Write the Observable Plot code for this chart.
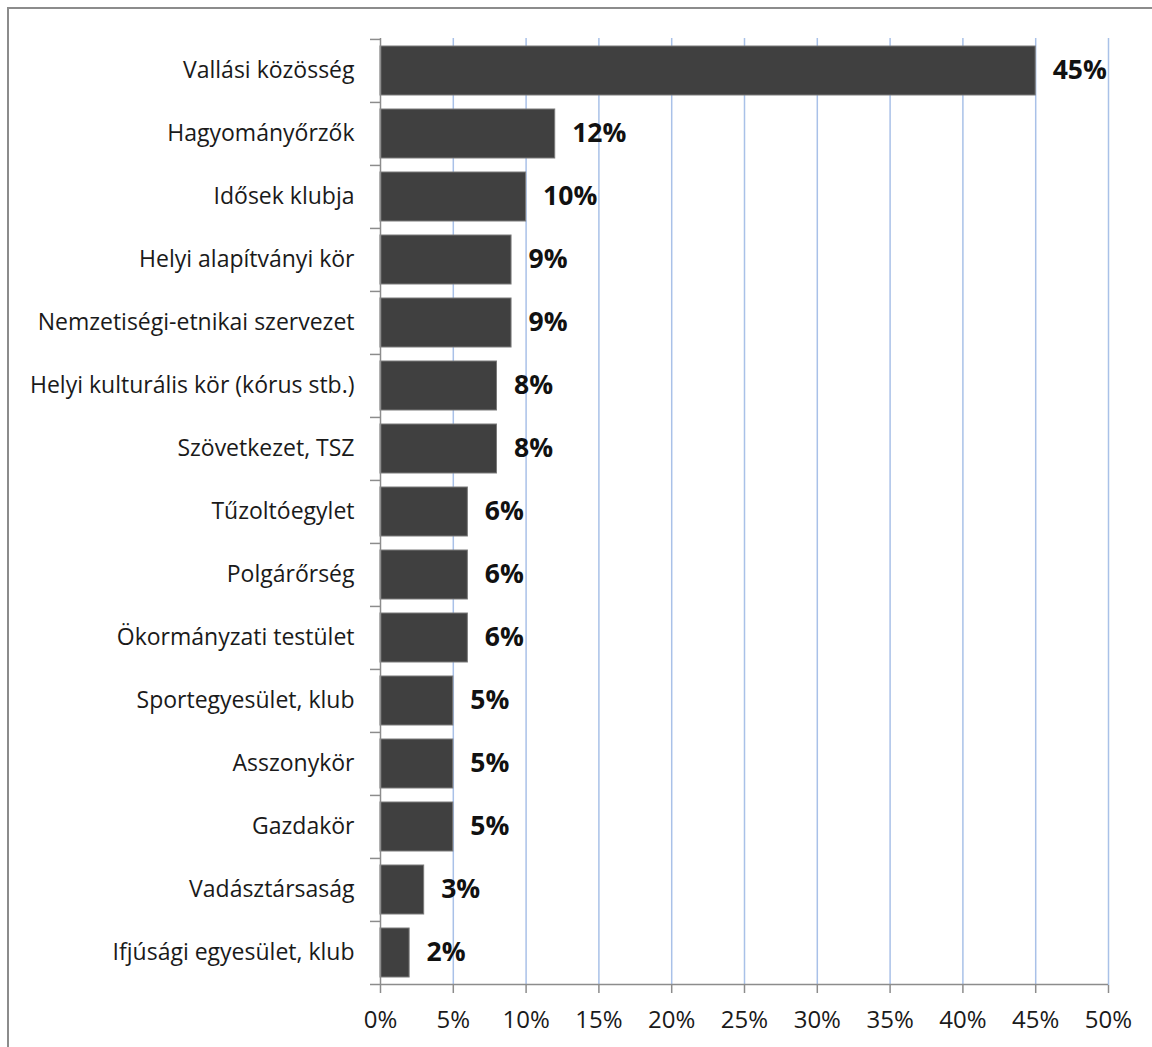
<!DOCTYPE html>
<html>
<head>
<meta charset="utf-8">
<script src="https://cdn.jsdelivr.net/npm/d3@7"></script>
<script src="https://cdn.jsdelivr.net/npm/@observablehq/plot@0.6"></script>
<style>
  html, body { margin: 0; padding: 0; background: #fff; }
  #wrap { position: relative; width: 1152px; height: 1047px; overflow: hidden; }
  #frame { position: absolute; left: 7px; top: 7px; width: 1200px; height: 1100px; border-left: 2px solid #8c8c8c; border-top: 2px solid #8c8c8c; box-sizing: border-box; pointer-events: none; }
  #chart { position: absolute; left: 0; top: 0; }
</style>
</head>
<body>
<div id="wrap"><div id="chart"></div><div id="frame"></div></div>
<script>
const categories = [
  "Vallási közösség",
  "Hagyományőrzők",
  "Idősek klubja",
  "Helyi alapítványi kör",
  "Nemzetiségi-etnikai szervezet",
  "Helyi kulturális kör (kórus stb.)",
  "Szövetkezet, TSZ",
  "Tűzoltóegylet",
  "Polgárőrség",
  "Ökormányzati testület",
  "Sportegyesület, klub",
  "Asszonykör",
  "Gazdakör",
  "Vadásztársaság",
  "Ifjúsági egyesület, klub"
];
const values = [45, 12, 10, 9, 9, 8, 8, 6, 6, 6, 5, 5, 5, 3, 2];
const xTicks = [0, 5, 10, 15, 20, 25, 30, 35, 40, 45, 50];

const data = categories.map((c, i) => ({category: c, value: values[i]}));

const W = 1152, H = 1047;
const mTop = 38, mBottom = 62, mLeft = 380, mRight = 44;
const step = (H - mTop - mBottom) / categories.length;
const pad = 0.23;
const font = "Open Sans, sans-serif";

const chart = Plot.plot({
  width: W,
  height: H,
  marginTop: mTop,
  marginBottom: mBottom,
  marginLeft: mLeft,
  marginRight: mRight,
  style: {fontFamily: font, background: "transparent", color: "#1a1a1a"},
  x: {domain: [0, 50], ticks: xTicks, tickFormat: d => d + "%", tickSize: 8, tickPadding: 17, label: null},
  y: {domain: categories, paddingInner: pad, paddingOuter: pad / 2, tickSize: 0, tickPadding: 26, label: null},
  marks: [
    Plot.ruleX(xTicks.filter(d => d > 0), {stroke: "#a9c1e8", strokeWidth: 1.5}),
    Plot.barX(data, {y: "category", x: "value", fill: "#404040", stroke: "#7a7a7a", strokeWidth: 1}),
    Plot.ruleX([0], {stroke: "#8c8c8c", strokeWidth: 1.5}),
    Plot.ruleY(categories, {y: d => d, x1: 0, x2: 0, insetLeft: -10, dy: -step / 2, stroke: "#8c8c8c", strokeWidth: 1.5}),
    Plot.ruleY(categories.slice(-1), {y: d => d, x1: 0, x2: 50, insetLeft: -10, dy: step / 2, stroke: "#8c8c8c", strokeWidth: 1.5}),
    Plot.text(data, {y: "category", x: "value", text: d => d.value + "%", textAnchor: "start", dx: 17, fontSize: 26.5, fontWeight: "bold", fill: "#111"})
  ]
});
d3.select(chart).selectAll("g[aria-label='y-axis tick label']").attr("font-size", 23);
d3.select(chart).selectAll("g[aria-label='x-axis tick label']").attr("font-size", 24);
d3.select(chart).selectAll("g[aria-label='x-axis tick']").attr("stroke", "#8c8c8c").attr("stroke-width", 1.5);
document.getElementById("chart").appendChild(chart);
</script>
</body>
</html>
